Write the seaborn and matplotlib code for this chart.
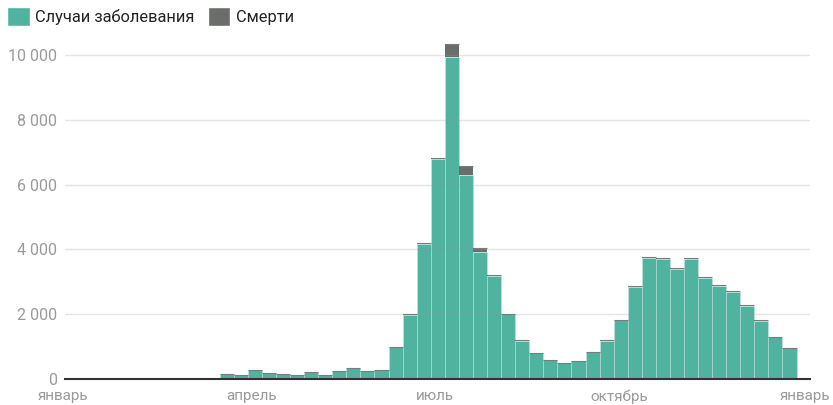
import pandas as pd
import numpy as np
import matplotlib.pyplot as plt
import matplotlib.ticker as mticker
from matplotlib.patches import Patch
from matplotlib.transforms import ScaledTranslation
import seaborn as sns

# Недельные данные (начало недели)
weeks = pd.date_range("2021-03-16", periods=41, freq="7D")
cases = [165, 134, 288, 196, 165, 124, 216, 134, 268, 350, 268, 299, 985, 1990,
         4170, 6780, 9920, 6300, 3920, 3180, 2000, 1190, 810, 605, 512, 552, 845,
         1195, 1825, 2840, 3730, 3710, 3400, 3710, 3115, 2885, 2700, 2270, 1810,
         1290, 960]
deaths = [0, 0, 0, 0, 0, 0, 0, 0, 0, 0, 0, 0, 5, 10,
          30, 40, 410, 280, 125, 45, 20, 10, 5, 5, 5, 5, 5,
          10, 15, 20, 25, 25, 25, 25, 25, 25, 20, 20, 15,
          10, 10]
tick_dates = ["2021-01-01", "2021-04-01", "2021-07-01", "2021-10-01", "2022-01-01"]
tick_labels = ["январь", "апрель", "июль", "октябрь", "январь"]
legend_labels = ["Случаи заболевания", "Смерти"]

teal = "#4fb39f"
grey = "#6b6d6b"

sns.set_theme(style="white")
plt.rcParams["font.family"] = ["Roboto", "DejaVu Sans"]

df = pd.DataFrame({"week": weeks, "cases": cases, "deaths": deaths})
df["total"] = df["cases"] + df["deaths"]
df["week_end"] = df["week"] + pd.Timedelta(days=7)

fig = plt.figure(figsize=(8.33, 4.05), dpi=100)
ax = fig.add_axes([65 / 833, 25.7 / 405, 745 / 833, 344 / 405])

ax.bar(df["week"], df["cases"], width=7, align="edge", color=teal,
       edgecolor=(1, 1, 1, 0.25), linewidth=0.6, zorder=2)
ax.bar(df["week"], df["deaths"], bottom=df["cases"], width=7, align="edge",
       color=grey, linewidth=0, zorder=2)
# тонкая серая линия по верху каждой ступеньки
ax.hlines(df["total"], df["week"], df["week_end"], color="#7a7c7a",
          linewidth=0.8, zorder=3)

ax.set_ylim(0, 10600)
ax.set_xlim(pd.Timestamp("2020-12-29"), pd.Timestamp("2022-01-03 17:00"))
ax.set_yticks([0, 2000, 4000, 6000, 8000, 10000])
ax.yaxis.set_major_formatter(
    mticker.FuncFormatter(lambda v, p: f"{int(v):,}".replace(",", " ")))
ax.set_xticks(pd.to_datetime(tick_dates))
ax.set_xticklabels(tick_labels)

ax.grid(axis="y", color="#999999", alpha=0.25, linewidth=1, zorder=4)
ax.set_axisbelow(False)
for s in ["top", "right", "left"]:
    ax.spines[s].set_visible(False)
ax.spines["bottom"].set_color("#333333")
ax.spines["bottom"].set_linewidth(1.5)
ax.spines["bottom"].set_zorder(5)
ax.tick_params(axis="both", length=0, colors="#9a9a9a")
ax.tick_params(axis="y", pad=6, labelsize=11.5)
ax.tick_params(axis="x", pad=7, labelsize=11)

first = ax.get_xticklabels()[0]
first.set_transform(first.get_transform() +
                    ScaledTranslation(-8 / 100, 0, fig.dpi_scale_trans))

handles = [Patch(facecolor=teal), Patch(facecolor=grey)]
fig.legend(handles, legend_labels, loc="upper left", bbox_to_anchor=(0.0, 1.0),
           ncol=2, frameon=False, fontsize=11.8, handlelength=1.35,
           handleheight=1.35, handletextpad=0.35, columnspacing=0.8,
           borderaxespad=0.0, borderpad=0.45, labelcolor="#222222")

fig.savefig("out.png", dpi=100)
